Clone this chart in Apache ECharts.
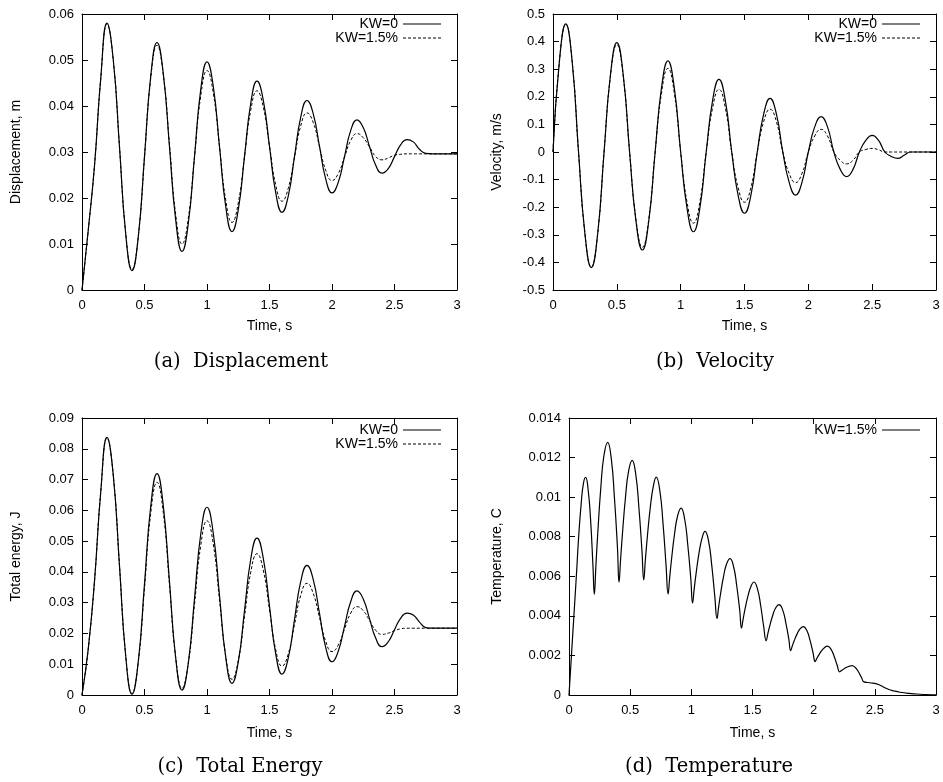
<html>
<head>
  <meta charset="utf-8">
  <style>
    html, body { margin: 0; padding: 0; background: #fff; }
    #container { width: 943px; height: 782px; }
  </style>
</head>
<body>
<div id="container"></div>
<script type="text/javascript" src="https://cdn.jsdelivr.net/npm/echarts@6/dist/echarts.min.js"></script>
<script type="text/javascript">
  var dom = document.getElementById('container');
  var myChart = echarts.init(dom, null, { renderer: 'canvas' });

  // time samples, s (panels a-c)
  const time = [
    0, 0.05, 0.1, 0.15, 0.2, 0.25, 0.3, 0.35, 0.4, 0.45, 0.5, 0.55, 0.6, 0.65, 0.7, 0.75, 0.8, 0.85, 0.9, 0.95, 1.0,
    1.05, 1.1, 1.15, 1.2, 1.25, 1.3, 1.35, 1.4, 1.45, 1.5, 1.55, 1.6, 1.65, 1.7, 1.75, 1.8, 1.85, 1.9, 1.95, 2.0,
    2.05, 2.1, 2.15, 2.2, 2.25, 2.3, 2.35, 2.4, 2.45, 2.5, 2.55, 2.6, 2.65, 2.7, 2.75, 2.8, 2.85, 2.9, 2.95, 3.0
  ];

  // (a) displacement, m
  const dispKW0 = [0, 0.013, 0.027, 0.046, 0.0580,
    0.0501, 0.0311, 0.0121, 0.0042,  0.0115, 0.0290, 0.0465, 0.0538,
    0.0471, 0.0311, 0.0151, 0.0084,  0.0144, 0.0290, 0.0436, 0.0496,
    0.0443, 0.0312, 0.0181, 0.0127,  0.0174, 0.0290, 0.0406, 0.0454,
    0.0413, 0.0312, 0.0211, 0.0169,  0.0204, 0.0290, 0.0376, 0.0412,
    0.0383, 0.0312, 0.0241, 0.0211,  0.0234, 0.0290, 0.0347, 0.0370,
    0.0353, 0.0312, 0.0271, 0.0254,  0.0264, 0.0290, 0.0316, 0.0327,
    0.0322, 0.0306, 0.0297, 0.0296,  0.0296, 0.0296, 0.0296, 0.0296];
  const dispKW15 = [0, 0.013, 0.027, 0.046, 0.0578,
    0.0500, 0.0311, 0.0123, 0.0045,  0.0116, 0.0289, 0.0461, 0.0532,
    0.0469, 0.0316, 0.0163, 0.0100,  0.0155, 0.0289, 0.0422, 0.0477,
    0.0429, 0.0312, 0.0195, 0.0147,  0.0189, 0.0290, 0.0391, 0.0433,
    0.0398, 0.0313, 0.0228, 0.0193,  0.0221, 0.0289, 0.0357, 0.0385,
    0.0364, 0.0312, 0.0260, 0.0238,  0.0253, 0.0289, 0.0325, 0.0340,
    0.0331, 0.0311, 0.0290, 0.0283,  0.0287, 0.0293, 0.0295, 0.0296,
    0.0296, 0.0296, 0.0296, 0.0296,  0.0296, 0.0296, 0.0296, 0.0296];

  // (b) velocity, m/s
  const velKW0 = [0, 0.328, 0.464, 0.328, 0,
    -0.296, -0.419, -0.296, 0,  0.280, 0.396, 0.280, 0,
    -0.251, -0.355, -0.251, 0,  0.233, 0.330, 0.233, 0,
    -0.204, -0.289, -0.204, 0,  0.186, 0.263, 0.186, 0,
    -0.157, -0.222, -0.157, 0,  0.137, 0.194, 0.137, 0,
    -0.110, -0.156, -0.110, 0,  0.091, 0.128, 0.091, 0,
    -0.063, -0.089, -0.063, 0,  0.042, 0.060, 0.042, 0,
    -0.016, -0.023, -0.012, 0,  0, 0, 0, 0];
  const velKW15 = [0, 0.328, 0.462, 0.328, 0,
    -0.296, -0.417, -0.295, 0,  0.275, 0.389, 0.275, 0,
    -0.244, -0.345, -0.244, 0,  0.214, 0.303, 0.214, 0,
    -0.182, -0.258, -0.182, 0,  0.160, 0.227, 0.160, 0,
    -0.129, -0.182, -0.129, 0,  0.110, 0.155, 0.110, 0,
    -0.078, -0.111, -0.078, 0,  0.058, 0.082, 0.058, 0,
    -0.030, -0.043, -0.030, 0,  0.009, 0.013, 0.008, 0,
    0, 0, 0, 0,  0, 0, 0, 0];

  // (c) total energy, J
  const energyKW0 = [0, 0.015, 0.037, 0.066, 0.0837,
    0.0715, 0.0420, 0.0125, 0.0003,  0.0108, 0.0361, 0.0614, 0.0719,
    0.0616, 0.0368, 0.0119, 0.0016,  0.0103, 0.0313, 0.0523, 0.0610,
    0.0526, 0.0324, 0.0122, 0.0038,  0.0107, 0.0274, 0.0441, 0.0510,
    0.0445, 0.0289, 0.0133, 0.0068,  0.0120, 0.0245, 0.0369, 0.0421,
    0.0375, 0.0265, 0.0154, 0.0108,  0.0142, 0.0223, 0.0304, 0.0338,
    0.0312, 0.0248, 0.0184, 0.0157,  0.0173, 0.0212, 0.0250, 0.0266,
    0.0260, 0.0237, 0.0219, 0.0217,  0.0217, 0.0217, 0.0217, 0.0217];
  const energyKW15 = [0, 0.015, 0.037, 0.066, 0.0835,
    0.0714, 0.0420, 0.0127, 0.0005,  0.0106, 0.0348, 0.0591, 0.0691,
    0.0593, 0.0357, 0.0120, 0.0022,  0.0102, 0.0294, 0.0486, 0.0566,
    0.0491, 0.0309, 0.0126, 0.0051,  0.0111, 0.0255, 0.0399, 0.0459,
    0.0406, 0.0277, 0.0147, 0.0094,  0.0133, 0.0229, 0.0324, 0.0363,
    0.0330, 0.0252, 0.0174, 0.0141,  0.0162, 0.0214, 0.0266, 0.0287,
    0.0274, 0.0242, 0.0210, 0.0197,  0.0201, 0.0209, 0.0215, 0.0217,
    0.0217, 0.0217, 0.0217, 0.0217,  0.0217, 0.0217, 0.0217, 0.0217];

  const tempTime = [0, 0.02, 0.04, 0.06, 0.08, 0.1, 0.118, 0.136, 0.156, 0.176, 0.196, 0.207, 0.220,
    0.235, 0.26, 0.285, 0.316, 0.346, 0.371, 0.396, 0.409, 0.422,
    0.437, 0.462, 0.487, 0.516, 0.546, 0.571, 0.596, 0.611, 0.624,
    0.639, 0.664, 0.689, 0.713, 0.743, 0.768, 0.793, 0.810, 0.823,
    0.838, 0.863, 0.888, 0.916, 0.946, 0.971, 0.996, 1.010, 1.023,
    1.038, 1.063, 1.088, 1.112, 1.142, 1.167, 1.192, 1.210, 1.223,
    1.238, 1.263, 1.288, 1.316, 1.346, 1.371, 1.396, 1.410, 1.423,
    1.438, 1.463, 1.488, 1.511, 1.541, 1.566, 1.591, 1.612, 1.625,
    1.640, 1.665, 1.690, 1.717, 1.747, 1.772, 1.797, 1.812, 1.825,
    1.840, 1.865, 1.890, 1.915, 1.945, 1.970, 1.995, 2.012, 2.025,
    2.040, 2.065, 2.090, 2.112, 2.142, 2.167, 2.192, 2.212, 2.225,
    2.240, 2.265, 2.290, 2.312, 2.342, 2.367, 2.392, 2.412,
    2.460, 2.515, 2.560, 2.610, 2.660, 2.706, 2.780, 2.843, 2.920, 3.0];
  const tempKW15 = [0, 0.0020, 0.0040, 0.0060, 0.0081, 0.0097, 0.0107, 0.0110, 0.0104, 0.0089, 0.0065, 0.00509, 0.00655,
    0.00816, 0.01047, 0.01208, 0.01277, 0.01192, 0.01001, 0.00747, 0.0057, 0.00687,
    0.00816, 0.01001, 0.01131, 0.01186, 0.01114, 0.0095, 0.00733, 0.00582, 0.00681,
    0.0079, 0.00945, 0.01054, 0.01101, 0.0103, 0.00871, 0.00659, 0.00511, 0.00593,
    0.00685, 0.00815, 0.00906, 0.00945, 0.00887, 0.00758, 0.00585, 0.00465, 0.00534,
    0.0061, 0.00718, 0.00794, 0.00827, 0.00774, 0.00655, 0.00497, 0.00387, 0.00444,
    0.00508, 0.00598, 0.00662, 0.00689, 0.00647, 0.00552, 0.00426, 0.00338, 0.00382,
    0.00431, 0.00501, 0.0055, 0.00571, 0.00535, 0.00455, 0.00348, 0.00274, 0.00309,
    0.00347, 0.00402, 0.00441, 0.00457, 0.00429, 0.00366, 0.00282, 0.00224, 0.00247,
    0.00273, 0.00309, 0.00335, 0.00346, 0.00325, 0.00277, 0.00213, 0.00169, 0.00184,
    0.002, 0.00224, 0.0024, 0.00247, 0.00231, 0.00196, 0.0015, 0.00117, 0.00123,
    0.00129, 0.00139, 0.00145, 0.00148, 0.00138, 0.00116, 0.00087, 0.00066,
    0.00062, 0.00056, 0.00044, 0.00029, 0.0002, 0.00014, 0.00008, 0.00005, 0.00002, 0.00001];

  const captions = ['(a)  Displacement', '(b)  Velocity', '(c)  Total Energy', '(d)  Temperature'];
  const yNames = ['Displacement, m', 'Velocity, m/s', 'Total energy, J', 'Temperature, C'];
  const yRanges = [[0, 0.06, 0.01], [-0.5, 0.5, 0.1], [0, 0.09, 0.01], [0, 0.014, 0.002]];

  function pairs(xs, ys) {
    return xs.map((x, i) => [x, ys[i]]);
  }

  const SANS = 'Liberation Sans';
  const grids = [
    { left: 82, top: 14, width: 375, height: 276 },
    { left: 553, top: 14, width: 383, height: 276 },
    { left: 82, top: 418, width: 375, height: 277 },
    { left: 569, top: 418, width: 367, height: 277 }
  ];
  const yNameGap = [59, 49, 59, 65];
  const xNameGap = [29, 29, 31, 31];

  let xAxes = [], yAxes = [];
  grids.forEach((g, i) => {
    let tick = { inside: true, length: 6, lineStyle: { color: '#000' } };
    let line = { onZero: false, lineStyle: { color: '#000', width: 1 } };
    xAxes.push({
      type: 'value', gridIndex: i, position: 'bottom', min: 0, max: 3, interval: 0.5,
      axisLine: line, axisTick: tick, splitLine: { show: false },
      axisLabel: { color: '#000', fontFamily: SANS, fontSize: 13, margin: 9 },
      name: 'Time, s', nameLocation: 'middle', nameGap: xNameGap[i],
      nameTextStyle: { color: '#000', fontFamily: SANS, fontSize: 14 }
    });
    xAxes.push({
      type: 'value', gridIndex: i, position: 'top', min: 0, max: 3, interval: 0.5,
      axisLine: line, axisTick: tick, splitLine: { show: false }, axisLabel: { show: false }
    });
    let r = yRanges[i];
    yAxes.push({
      type: 'value', gridIndex: i, position: 'left', min: r[0], max: r[1], interval: r[2],
      axisLine: line, axisTick: tick, splitLine: { show: false },
      axisLabel: { color: '#000', fontFamily: SANS, fontSize: 13, margin: 8 },
      name: yNames[i], nameLocation: 'middle', nameGap: yNameGap[i],
      nameTextStyle: { color: '#000', fontFamily: SANS, fontSize: 14 }
    });
    yAxes.push({
      type: 'value', gridIndex: i, position: 'right', min: r[0], max: r[1], interval: r[2],
      axisLine: line, axisTick: tick, splitLine: { show: false }, axisLabel: { show: false }
    });
  });

  const solid = { color: '#000', width: 1.2, type: 'solid' };
  const dashed = { color: '#000', width: 1, type: [3, 2] };

  function line(name, panel, xs, ys, style) {
    return {
      name: name, type: 'line', xAxisIndex: panel * 2, yAxisIndex: panel * 2,
      data: pairs(xs, ys), smooth: 0.5, symbol: 'none', showSymbol: false,
      lineStyle: style, itemStyle: { color: '#000' }
    };
  }

  let series = [
    line('KW=0', 0, time, dispKW0, solid),
    line('KW=1.5%', 0, time, dispKW15, dashed),
    line('KW=0', 1, time, velKW0, solid),
    line('KW=1.5%', 1, time, velKW15, dashed),
    line('KW=0', 2, time, energyKW0, solid),
    line('KW=1.5%', 2, time, energyKW15, dashed),
    line('temp', 3, tempTime, tempKW15, solid)
  ];

  // legend keys: a plain bar and a row of short dashes
  const solidKey = 'path://M0,0h38v1h-38z';
  const dashKey = 'path://M0,0h3v1h-3zM5,0h3v1h-3zM10,0h3v1h-3zM15,0h3v1h-3zM20,0h3v1h-3zM25,0h3v1h-3zM30,0h3v1h-3zM35,0h3v1h-3z';

  function legendAt(right, top, items, fmt) {
    return {
      orient: 'vertical', align: 'right', right: right, top: top, padding: 0,
      itemWidth: 38, itemHeight: 1.2, itemGap: 0, selectedMode: false,
      itemStyle: { color: '#000', borderWidth: 0 },
      data: items, formatter: fmt,
      textStyle: { color: '#000', fontFamily: SANS, fontSize: 14, lineHeight: 14 }
    };
  }
  const twoKeys = [{ name: 'KW=0', icon: solidKey }, { name: 'KW=1.5%', icon: dashKey }];

  const captionPos = [[241, 352], [715, 352], [240, 757], [709, 757]];
  let titles = captions.map((c, i) => ({
    text: c, left: captionPos[i][0], top: captionPos[i][1], textAlign: 'center', padding: 0,
    textStyle: { color: '#000', fontFamily: 'DejaVu Serif', fontWeight: 'normal', fontSize: 19.5 }
  }));

  var option = {
    animation: false,
    backgroundColor: '#fff',
    title: titles,
    grid: grids,
    xAxis: xAxes,
    yAxis: yAxes,
    legend: [
      legendAt(502, 17, twoKeys),
      legendAt(23, 17, twoKeys),
      legendAt(502, 423, twoKeys),
      legendAt(23, 423, [{ name: 'temp', icon: solidKey }], function () { return 'KW=1.5%'; })
    ],
    series: series
  };

  myChart.setOption(option);
  window.addEventListener('resize', myChart.resize);
</script>
</body>
</html>
